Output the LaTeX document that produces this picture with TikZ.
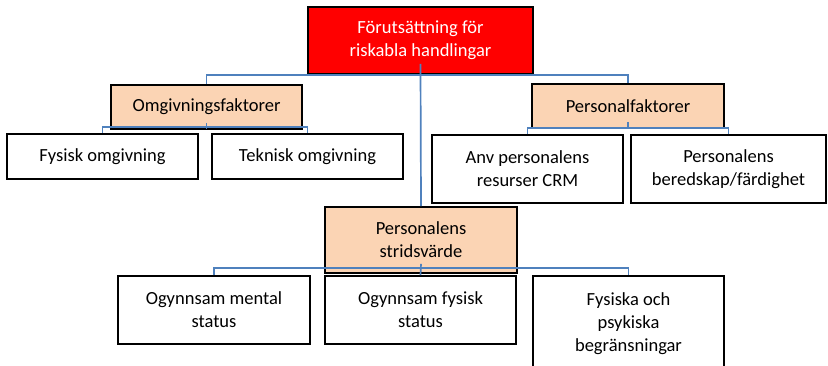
\documentclass[tikz,border=0pt]{standalone}
\usepackage{fontspec}
\setmainfont{Carlito}
\definecolor{peach}{HTML}{FBD4B4}
\definecolor{conncol}{HTML}{4F81BD}
\begin{document}
\begin{tikzpicture}[x=1pt,y=-1pt,
  box/.style={draw=black,line width=1.8pt,fill=white,align=center,inner sep=0pt,
    font=\fontsize{18.5}{23}\selectfont,text=black},
  toptbox/.style={box,fill=red,text=white},
  midbox/.style={box,fill=peach},
  conn/.style={draw=conncol,line width=1.7pt}]
\useasboundingbox (0,0) rectangle (828,365);
\node[toptbox,minimum width=225pt,minimum height=67pt] (top) at (420.5,40.5) {Förutsättning för\\riskabla handlingar};
\node[midbox,minimum width=191pt,minimum height=44pt] (omg) at (206.5,107) {Omgivningsfaktorer};
\node[midbox,minimum width=192pt,minimum height=44pt] (pers) at (628,106) {Personalfaktorer};
\node[box,minimum width=191pt,minimum height=45pt] (fo) at (102.5,156.5) {Fysisk omgivning};
\node[box,minimum width=191pt,minimum height=45pt] (to) at (307.5,156.5) {Teknisk omgivning};
\node[box,minimum width=191pt,minimum height=68pt] (anv) at (527.5,169) {Anv personalens\\resurser CRM};
\node[box,minimum width=195pt,minimum height=68pt] (ber) at (728.5,169) {Personalens\\beredskap/färdighet};
\node[midbox,minimum width=192pt,minimum height=66pt] (strid) at (421,240) {Personalens\\stridsvärde};
\node[box,minimum width=192pt,minimum height=68pt] (om) at (214,310) {Ogynnsam mental\\status};
\node[box,minimum width=191pt,minimum height=68pt] (fs) at (420.5,310) {Ogynnsam fysisk\\status};
\node[box,minimum width=191pt,minimum height=96pt] (fp) at (628.5,324) {Fysiska och\\psykiska\\begränsningar};
% connectors
\draw[conn] (omg.north) |- (top.south) -| (pers.north);
\draw[conn] ([yshift=11pt]top.south) -- (strid.north);
\draw[conn] ([yshift=7pt]omg.south) -- ++(0,6);
\draw[conn] (fo.north) -- ++(0,-6) -| (to.north);
\draw[conn] ([yshift=7pt]pers.south) -- ++(0,6);
\draw[conn] (anv.north) -- ++(0,-6) -| (ber.north);
\draw[conn] ([yshift=10pt]strid.south) -- (fs.north);
\draw[conn] (om.north) -- ++(0,-7) -| (fp.north);
\end{tikzpicture}
\end{document}
